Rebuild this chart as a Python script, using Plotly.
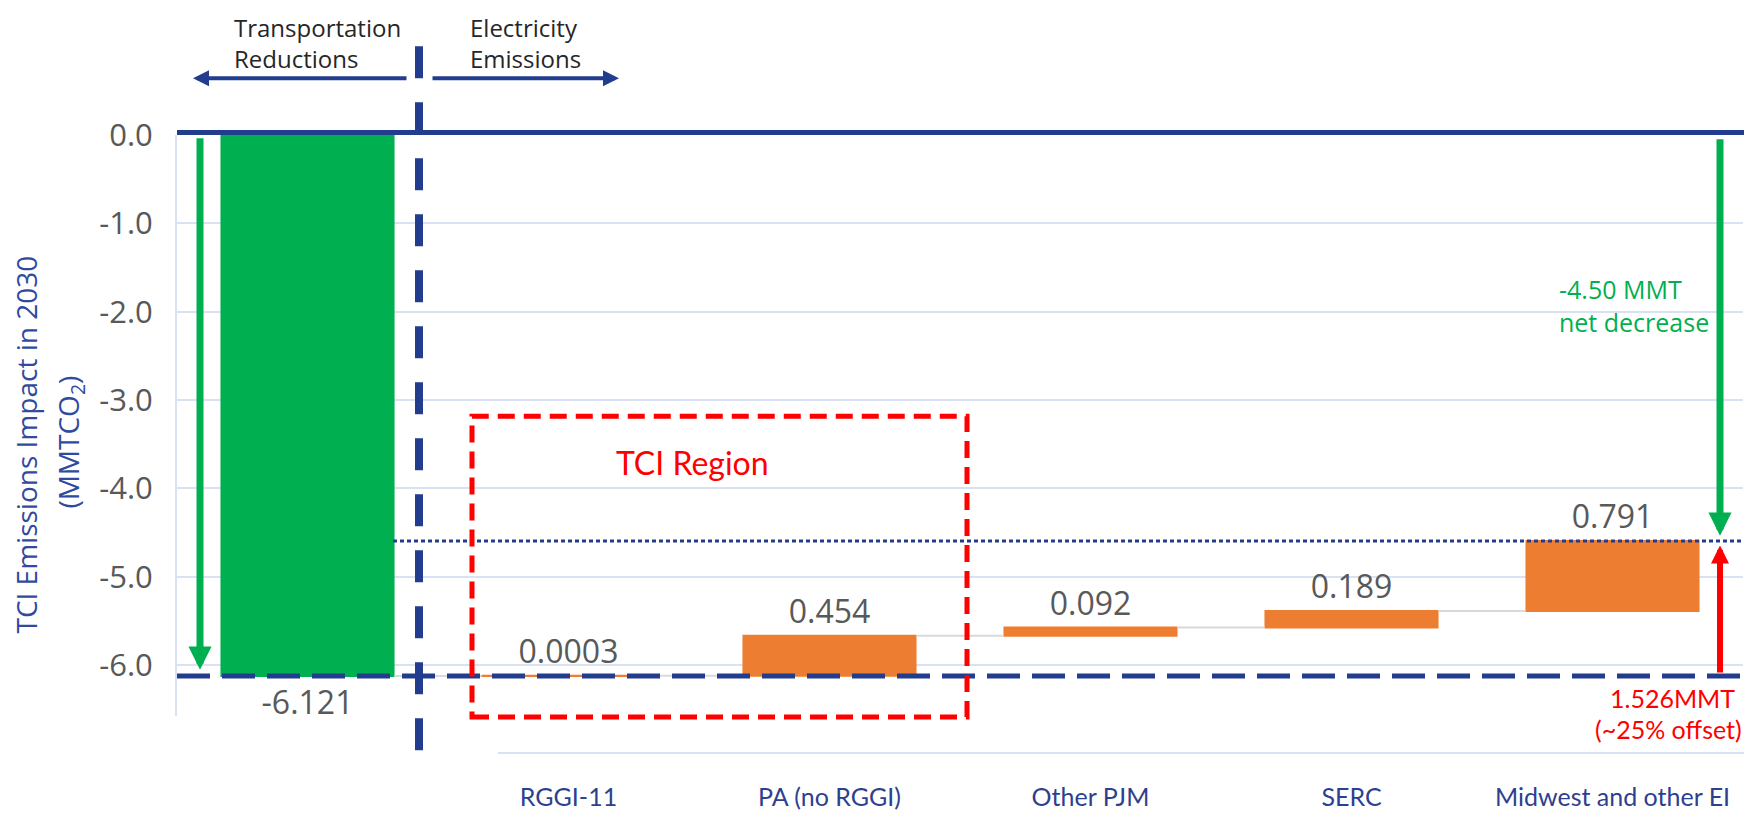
import plotly.graph_objects as go

# data
categories = ["Transportation", "RGGI-11", "PA (no RGGI)", "Other PJM", "SERC", "Midwest and other EI"]
impacts = [-6.121, 0.0003, 0.454, 0.092, 0.189, 0.791]
measures = ["absolute", "relative", "relative", "relative", "relative", "relative"]
bar_labels = ["-6.121", "0.0003", "0.454", "0.092", "0.189", "0.791"]
tick_labels = ["", "RGGI-11", "PA (no RGGI)", "Other PJM", "SERC", "Midwest and other EI"]
y_ticks = [0, -1, -2, -3, -4, -5, -6]

transport_total = impacts[0]
net_level = sum(impacts)

# colours / fonts
BLUE = "#233D8E"
GREEN = "#00B050"
ORANGE = "#ED7D31"
RED = "#FF0000"
GRID = "#D9E1F2"
GRAY = "#595959"
NARROW = "Lato, Roboto, sans-serif"
OPEN = "Open Sans, sans-serif"

# the page body adds an 8px margin, so the figure is drawn 8px in from the corner
PAD = 8
W, H = 1752 - PAD, 820 - PAD
L, T = 177 - PAD, 135 - PAD
R = W - (1743 - PAD)
B = H - (730 - PAD)
PW, PH = W - L - R, H - T - B


def fx(px):
    # screenshot x pixel -> paper
    return (px - PAD - L) / PW


def fy(py):
    # screenshot y pixel -> paper
    return (T + PH - (py - PAD)) / PH


fig = go.Figure()
fig.add_trace(go.Waterfall(
    x=categories, y=impacts, measure=measures,
    text=bar_labels, textposition="outside", constraintext="none",
    textfont=dict(family=OPEN, size=32, color=GRAY),
    totals=dict(marker=dict(color=GREEN)),
    increasing=dict(marker=dict(color=ORANGE)),
    decreasing=dict(marker=dict(color=GREEN)),
    connector=dict(line=dict(color="#D9D9D9", width=2)),
    width=0.667, cliponaxis=False, showlegend=False, hoverinfo="skip",
))

shapes = [
    # zero line (sits on top edge of plot)
    dict(type="line", xref="paper", yref="paper", x0=fx(177), x1=fx(1750), y0=fy(132.5), y1=fy(132.5),
         line=dict(color=BLUE, width=5)),
    # transport level
    dict(type="line", xref="paper", yref="y", x0=fx(177), x1=fx(1752), y0=transport_total, y1=transport_total,
         line=dict(color=BLUE, width=5, dash="33px,12px")),
    # net level
    dict(type="line", xref="paper", yref="y", x0=fx(393), x1=fx(1752), y0=net_level, y1=net_level,
         line=dict(color=BLUE, width=3, dash="4px,3px")),
    # divider
    dict(type="line", xref="paper", yref="paper", x0=fx(419), x1=fx(419), y0=fy(765), y1=fy(22),
         line=dict(color=BLUE, width=8, dash="32px,24px")),
    # TCI region box
    dict(type="rect", xref="paper", yref="paper", x0=fx(472), x1=fx(967), y0=fy(731), y1=fy(423),
         line=dict(color=RED, width=5, dash="17px,9px")),
    # second category axis line
    dict(type="line", xref="paper", yref="paper", x0=fx(498), x1=fx(1752), y0=fy(768), y1=fy(768),
         line=dict(color=GRID, width=2)),
]

ann = []


def text(t, x, y, color, size, family=OPEN, xanchor="left", angle=0):
    ann.append(dict(text=t, xref="paper", yref="paper", x=fx(x), y=fy(y), xanchor=xanchor,
                    yanchor="middle", showarrow=False, textangle=angle,
                    font=dict(family=family, size=size, color=color)))


def arrow(x, y, color, width, size, ax=0, ay=0, yref="paper", ayref="pixel"):
    ann.append(dict(text="", xref="paper", yref=yref, x=fx(x), y=y if yref == "y" else fy(y),
                    ax=ax, ay=ay, axref="pixel", ayref=ayref, showarrow=True,
                    arrowhead=2, arrowsize=size, arrowwidth=width, arrowcolor=color, standoff=0))


text("Transportation", 232, 25, "#262626", 24)
text("Reductions", 232, 57, "#262626", 24)
text("Electricity", 468, 25, "#262626", 24)
text("Emissions", 468, 57, "#262626", 24)
arrow(193, 77, BLUE, 4, 0.8, ax=215)
arrow(619, 77, BLUE, 4, 0.8, ax=-188)

text("TCI Region", 692, 470, RED, 32, NARROW, "center")

arrow(200, transport_total + 0.07, GREEN, 7, 0.66, ay=-0.02, yref="y", ayref="y")
arrow(1720, net_level + 0.06, GREEN, 7, 0.66, ay=-0.03, yref="y", ayref="y")
arrow(1720, net_level - 0.05, RED, 6, 0.6, ay=transport_total + 0.02, yref="y", ayref="y")

text("-4.50 MMT", 1557, 293, GREEN, 25)
text("net decrease", 1557, 326, GREEN, 25)
text("1.526MMT", 1672, 712, RED, 25, NARROW, "center")
text("(~25% offset)", 1668, 743, RED, 25, NARROW, "center")

text("TCI Emissions Impact in 2030", 26, 452, "#2F4A9E", 28, angle=-90, xanchor="center")
text("(MMTCO<sub>2</sub>)", 70, 450, "#2F4A9E", 28, angle=-90, xanchor="center")

fig.update_layout(
    width=W, height=H,
    margin=dict(l=L, r=R, t=T, b=B),
    paper_bgcolor="white", plot_bgcolor="white",
    shapes=shapes, annotations=ann,
    xaxis=dict(type="category", range=[-0.5, 5.5], showgrid=False, showline=False,
               tickvals=categories, ticktext=tick_labels, ticks="", ticklabelstandoff=64,
               tickfont=dict(family=NARROW, size=25, color="#2E3F8F")),
    yaxis=dict(range=[-6.575, 0], tickvals=y_ticks, ticktext=[f"{v:.1f}" for v in y_ticks],
               showgrid=True, gridcolor=GRID, gridwidth=2, zeroline=False,
               showline=True, linecolor=GRID, linewidth=2, ticks="", ticklabelstandoff=16,
               tickfont=dict(family=OPEN, size=31, color=GRAY)),
)

fig.write_html("out.html")
